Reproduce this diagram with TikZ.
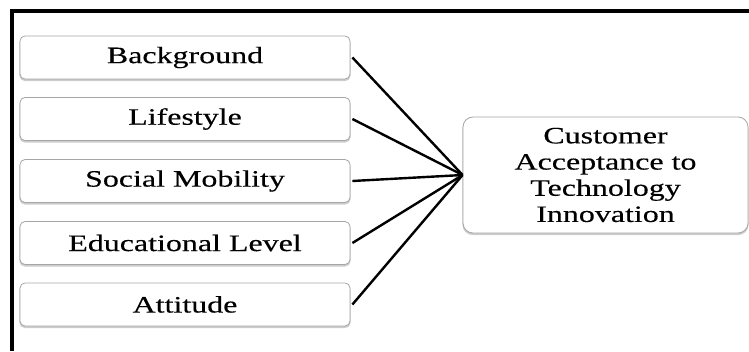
\documentclass[tikz,border=0pt]{standalone}
\usepackage{fontspec}
\newfontfamily\boxfont[FakeStretch=1.36,FakeBold=0.3]{Liberation Serif}
\begin{document}
\begin{tikzpicture}[x=1pt,y=1pt,
  factor/.style={draw=black!35, line width=0.8pt, rounded corners=5pt, fill=white,
    minimum width=330pt, minimum height=43pt, inner sep=0pt,
    font=\boxfont\fontsize{23.5}{26}\selectfont},
  target/.style={draw=black!35, line width=0.8pt, rounded corners=10pt, fill=white,
    minimum width=285pt, minimum height=116pt, inner sep=0pt, align=center,
    font=\boxfont\fontsize{23.5}{26.2}\selectfont},
  shadowed/.style={preaction={draw=black!20, line width=1.2pt, fill=black!20, transform canvas={yshift=-1.5pt}}},
  link/.style={line width=2.4pt, black}]
\useasboundingbox (0,0) rectangle (749,351);
% frame
\draw[line width=3.5pt] (12,0) -- (12,340) -- (749,340);
% factor boxes
\node[factor,shadowed] (bg)  at (185,293.5) {Background};
\node[factor,shadowed] (ls)  at (185,232)   {Lifestyle};
\node[factor,shadowed] (sm)  at (185,170)   {Social Mobility};
\node[factor,shadowed] (el)  at (185,108)   {Educational Level};
\node[factor,shadowed] (at)  at (185,46.5)  {Attitude};
% target
\node[target,shadowed] (cat) at (605.5,176) {Customer\\Acceptance to\\Technology\\Innovation};
% connectors
\foreach \n in {bg,ls,sm,el,at}
  \draw[link] ([xshift=2pt]\n.east) -- (cat.west);
\end{tikzpicture}
\end{document}
